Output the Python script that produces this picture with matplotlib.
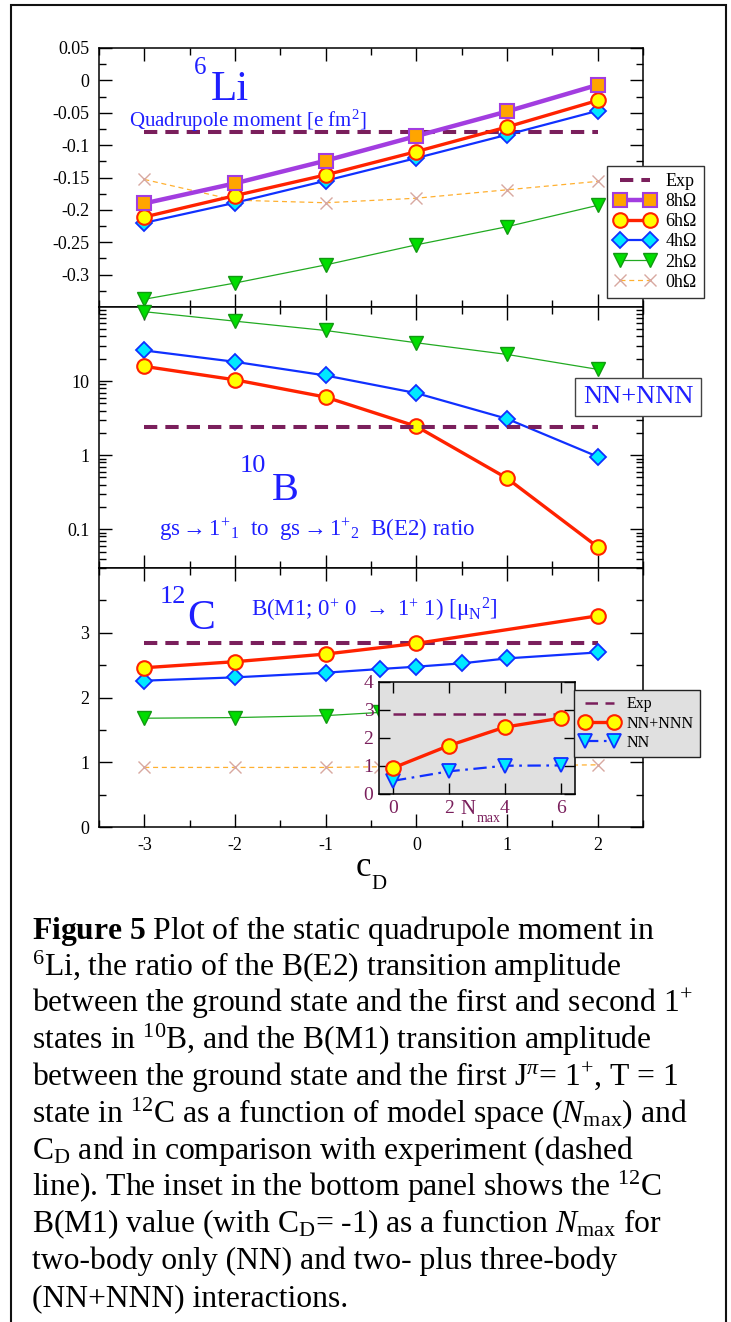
import matplotlib
matplotlib.use('Agg')
import matplotlib.pyplot as plt
from matplotlib.lines import Line2D
from matplotlib.patches import Rectangle
from matplotlib.ticker import MultipleLocator, FixedLocator, FuncFormatter, LogLocator, NullFormatter

plt.rcParams['font.family'] = ['Liberation Serif', 'DejaVu Serif']
plt.rcParams['mathtext.fontset'] = 'custom'
plt.rcParams['mathtext.rm'] = 'Liberation Serif'
plt.rcParams['mathtext.it'] = 'Liberation Serif:italic'
plt.rcParams['mathtext.bf'] = 'Liberation Serif:bold'
plt.rcParams['axes.unicode_minus'] = False

# ---------------- data ----------------
cD = [-3, -2, -1, 0, 1, 2]
# 6Li quadrupole moment
li_8 = [-0.190, -0.159, -0.124, -0.086, -0.048, -0.007]
li_6 = [-0.211, -0.178, -0.146, -0.110, -0.072, -0.031]
li_4 = [-0.220, -0.189, -0.155, -0.120, -0.084, -0.047]
li_2 = [-0.338, -0.313, -0.285, -0.254, -0.226, -0.193]
li_0 = [-0.153, -0.185, -0.189, -0.182, -0.169, -0.156]
li_exp = -0.080
# 10B B(E2) ratio
b_6 = [15.8, 10.4, 6.08, 2.45, 0.488, 0.0578]
b_4 = [25.9, 18.2, 11.9, 6.88, 3.10, 0.955]
b_2 = [86.4, 64.4, 48.2, 32.9, 22.9, 14.4]
b_exp = 2.42
# 12C B(M1)
c_6_x = [-3, -2, -1, 0, 2]
c_6 = [2.46, 2.553, 2.671, 2.835, 3.261]
c_4_x = [-3, -2, -1, -0.4, 0, 0.5, 1, 2]
c_4 = [2.26, 2.311, 2.383, 2.44, 2.476, 2.527, 2.604, 2.696]
c_2_x = [-3, -2, -1, -0.4]
c_2 = [1.68, 1.69, 1.72, 1.77]
c_0_x = [-3, -2, -1, -0.4, 2]
c_0 = [0.92, 0.92, 0.92, 0.93, 0.96]
c_exp = 2.845
# inset: 12C B(M1) vs Nmax (cD = -1)
nmax = [0, 2, 4, 6]
inset_nnn = [0.93, 1.73, 2.39, 2.71]
inset_nn = [0.47, 0.81, 1.01, 1.02]
inset_exp = 2.86

labels_hw = ['8hΩ', '6hΩ', '4hΩ', '2hΩ', '0hΩ']
li_yticks = [0.05, 0, -0.05, -0.1, -0.15, -0.2, -0.25, -0.3]
b_yticks = [0.1, 1, 10]
c_yticks = [0, 1, 2, 3]
cd_ticks = [-3, -2, -1, 0, 1, 2]

# ---------------- styles ----------------
BLUE_TXT = '#1f1fff'
EXP_C = '#7a1f5c'
styles = {
    '8': dict(color='#a23de0', lw=3.2, marker='s', ms=9.5, mfc='#ffa500', mec='#a23de0', mew=1.5, zorder=6),
    '6': dict(color='#ff2200', lw=2.4, marker='o', ms=10.5, mfc='#ffff00', mec='#ff2200', mew=1.5, zorder=5),
    '4': dict(color='#1030ff', lw=1.6, marker='D', ms=8.5, mfc='#00e8ff', mec='#1030ff', mew=1.3, zorder=4),
    '2': dict(color='#22aa22', lw=0.9, marker='v', ms=10, mfc='#00dd00', mec='#119911', mew=1.0, zorder=3),
    '0': dict(color='#ffb030', lw=0.9, ls=(0, (4, 3)), marker='x', ms=8, mec='#d8a8a0', mew=1.0, zorder=2),
}
exp_style = dict(color=EXP_C, lw=2.9, ls=(0, (3.3, 2.0)), zorder=2.5)

W_PX, H_PX = 731, 1322
fig = plt.figure(figsize=(W_PX / 100, H_PX / 100), dpi=100)

L, R = 99, 643


def ax_at(top, bot):
    return fig.add_axes([L / W_PX, 1 - bot / H_PX, (R - L) / W_PX, (bot - top) / H_PX])


ax1 = ax_at(48, 307)
ax2 = ax_at(307, 568)
ax3 = ax_at(568, 827)


def style_ax(ax):
    ax.tick_params(which='both', direction='in', top=True, right=True, labelsize=13,
                   width=1.0, pad=7)
    ax.tick_params(which='major', length=9.4)
    ax.tick_params(which='minor', length=5)
    for s in ax.spines.values():
        s.set_linewidth(1.1)
    ax.set_xlim(-3.5, 2.5)
    ax.xaxis.set_major_locator(FixedLocator(cd_ticks))
    ax.xaxis.set_minor_locator(MultipleLocator(0.5))


for ax in (ax1, ax2, ax3):
    style_ax(ax)
ax1.tick_params(labelbottom=False)
ax2.tick_params(labelbottom=False)

gfmt = FuncFormatter(lambda v, p: '%g' % round(v, 4))

# ---- top panel: 6Li ----
ax1.set_ylim(-0.35, 0.05)
ax1.yaxis.set_major_locator(FixedLocator(li_yticks))
ax1.yaxis.set_minor_locator(MultipleLocator(0.025))
ax1.yaxis.set_major_formatter(gfmt)
ax1.plot([cD[0], cD[-1]], [li_exp, li_exp], **exp_style)
for key, ys in zip(['0', '2', '4', '6', '8'], [li_0, li_2, li_4, li_6, li_8]):
    ax1.plot(cD, ys, clip_on=False, **styles[key])

fig.text(194 / W_PX, 1 - 74 / H_PX, '6', fontsize=18, color=BLUE_TXT, va='baseline')
fig.text(211 / W_PX, 1 - 100 / H_PX, 'Li', fontsize=31, color=BLUE_TXT, va='baseline')
fig.text(129 / W_PX, 1 - 127 / H_PX, 'Quadrupole moment [e fm$^{2}$]', fontsize=15,
         color=BLUE_TXT, va='baseline')

handles = [Line2D([], [], **exp_style)]
for key in ['8', '6', '4', '2', '0']:
    st = dict(styles[key]); st.pop('zorder')
    handles.append(Line2D([], [], **st))
leg1 = fig.legend(handles, ['Exp'] + labels_hw, loc='upper left',
                  bbox_to_anchor=(607 / W_PX, 1 - 166 / H_PX), borderaxespad=0,
                  fontsize=13, numpoints=2, handlelength=2.3, handletextpad=0.55,
                  labelspacing=0.17, borderpad=0.4, fancybox=False, framealpha=1,
                  edgecolor='#333333')
leg1.get_frame().set_linewidth(1.0)
leg1.set_zorder(20)

# ---- middle panel: 10B ----
ax2.set_yscale('log')
ax2.set_ylim(0.03, 100)
ax2.yaxis.set_major_locator(FixedLocator(b_yticks))
ax2.yaxis.set_minor_locator(LogLocator(base=10, subs=(2, 3, 4, 5, 6, 7, 8, 9), numticks=20))
ax2.yaxis.set_minor_formatter(NullFormatter())
ax2.yaxis.set_major_formatter(gfmt)
ax2.plot([cD[0], cD[-1]], [b_exp, b_exp], **dict(exp_style, zorder=7))
for key, ys in zip(['2', '4', '6'], [b_2, b_4, b_6]):
    ax2.plot(cD, ys, clip_on=False, **styles[key])

fig.text(240 / W_PX, 1 - 472 / H_PX, '10', fontsize=19, color=BLUE_TXT, va='baseline')
fig.text(272 / W_PX, 1 - 500 / H_PX, 'B', fontsize=29, color=BLUE_TXT, va='baseline')
fig.text(159 / W_PX, 1 - 536 / H_PX,
         r'gs$\rightarrow$1$^{+}{}_{1}$  to  gs$\rightarrow$1$^{+}{}_{2}$  B(E2) ratio',
         fontsize=16.5, color=BLUE_TXT, va='baseline')
fig.text(638 / W_PX, 1 - 397 / H_PX, 'NN+NNN', fontsize=19, color=BLUE_TXT,
         ha='center', va='center', zorder=20,
         bbox=dict(boxstyle='square,pad=0.3', fc='white', ec='#444444', lw=1.0))

# ---- bottom panel: 12C ----
ax3.set_ylim(0, 4)
ax3.yaxis.set_major_locator(FixedLocator(c_yticks))
ax3.yaxis.set_minor_locator(MultipleLocator(0.5))
ax3.yaxis.set_major_formatter(gfmt)
ax3.xaxis.set_major_formatter(gfmt)
ax3.plot([cD[0], cD[-1]], [c_exp, c_exp], **exp_style)
ax3.plot(c_0_x, c_0, clip_on=False, **styles['0'])
ax3.plot(c_2_x, c_2, clip_on=False, **styles['2'])
ax3.plot(c_4_x, c_4, clip_on=False, **styles['4'])
ax3.plot(c_6_x, c_6, clip_on=False, **styles['6'])

fig.text(160 / W_PX, 1 - 603 / H_PX, '12', fontsize=19, color=BLUE_TXT, va='baseline')
fig.text(187 / W_PX, 1 - 629 / H_PX, 'C', fontsize=30, color=BLUE_TXT, va='baseline')
fig.text(251 / W_PX, 1 - 617 / H_PX,
         r'B(M1; 0$^{+}$ 0 $\rightarrow$ 1$^{+}$ 1) [$\mathrm{\mu}_{\mathrm{N}}{}^{2}$]',
         fontsize=16.5, color=BLUE_TXT, va='baseline')

# x label c_D
fig.text(356 / W_PX, 1 - 876 / H_PX, 'c', fontsize=25, va='baseline')
fig.text(371 / W_PX, 1 - 889 / H_PX, 'D', fontsize=15, va='baseline')

# ---- inset ----
axi = fig.add_axes([379 / W_PX, 1 - 794 / H_PX, 196 / W_PX, 112 / H_PX], facecolor='#e0e0e0')
axi.set_zorder(10)
axi.set_xlim(-0.5, 6.5)
axi.set_ylim(0, 4)
axi.xaxis.set_major_locator(FixedLocator(nmax))
axi.yaxis.set_major_locator(FixedLocator([0, 1, 2, 3, 4]))
axi.tick_params(which='both', direction='in', top=True, right=True, labelsize=14,
                labelcolor=EXP_C, length=8, width=1.0, pad=4)
for s in axi.spines.values():
    s.set_linewidth(1.1)
inset_exp_style = dict(color=EXP_C, lw=1.8, ls=(0, (5, 3)))
nnn_style = dict(color='#ff2200', lw=2.4, marker='o', ms=10.5, mfc='#ffff00', mec='#ff2200', mew=1.5)
nn_style = dict(color='#1030ff', lw=1.6, ls=(0, (6, 2.5, 1.2, 2.5)), marker='v', ms=10,
                mfc='#00e8ff', mec='#1030ff', mew=1.3)
axi.plot([nmax[0], nmax[-1]], [inset_exp, inset_exp], **inset_exp_style)
axi.plot(nmax, inset_nn, clip_on=False, **nn_style)
axi.plot(nmax, inset_nnn, clip_on=False, **nnn_style)
fig.text(460 / W_PX, 1 - 814 / H_PX, 'N', fontsize=15, color=EXP_C, va='baseline')
fig.text(477 / W_PX, 1 - 822 / H_PX, 'max', fontsize=10, color=EXP_C, va='baseline')

leg2 = fig.legend([Line2D([], [], **inset_exp_style), Line2D([], [], **nnn_style),
                   Line2D([], [], **nn_style)], ['Exp', 'NN+NNN', 'NN'],
                  loc='upper left', bbox_to_anchor=(574 / W_PX, 1 - 690 / H_PX),
                  borderaxespad=0, fontsize=11.5, numpoints=2, handlelength=2.4,
                  handletextpad=0.5, labelspacing=0.2, borderpad=0.4, fancybox=False,
                  framealpha=1, facecolor='#e0e0e0', edgecolor='#222222')
leg2.get_frame().set_linewidth(1.0)
leg2.set_zorder(21)

# ---- outer border ----
fig.patches.append(Rectangle((11 / W_PX, -0.01), (726 - 11) / W_PX, 1.01 - 5 / H_PX,
                             transform=fig.transFigure, fill=False, lw=1.5, ec='#111111'))

# ---- caption ----
cap_lines = [
    r'$\mathbf{Figure\ 5}$ Plot of the static quadrupole moment in',
    r'$^{6}$Li, the ratio of the B(E2) transition amplitude',
    r'between the ground state and the first and second 1$^{+}$',
    r'states in $^{10}$B, and the B(M1) transition amplitude',
    r'between the ground state and the first J$^{\pi}$= 1$^{+}$, T = 1',
    r'state in $^{12}$C as a function of model space ($N_{\mathrm{max}}$) and',
    r'C$_{\mathrm{D}}$ and in comparison with experiment (dashed',
    r'line). The inset in the bottom panel shows the $^{12}$C',
    r'B(M1) value (with C$_{\mathrm{D}}$= -1) as a function $N_{\mathrm{max}}$ for',
    r'two-body only (NN) and two- plus three-body',
    r'(NN+NNN) interactions.',
]
for i, line in enumerate(cap_lines):
    fig.text(32 / W_PX, 1 - (939 + 36.7 * i) / H_PX, line, fontsize=22.8, va='baseline')

fig.savefig('out.png', dpi=100)
